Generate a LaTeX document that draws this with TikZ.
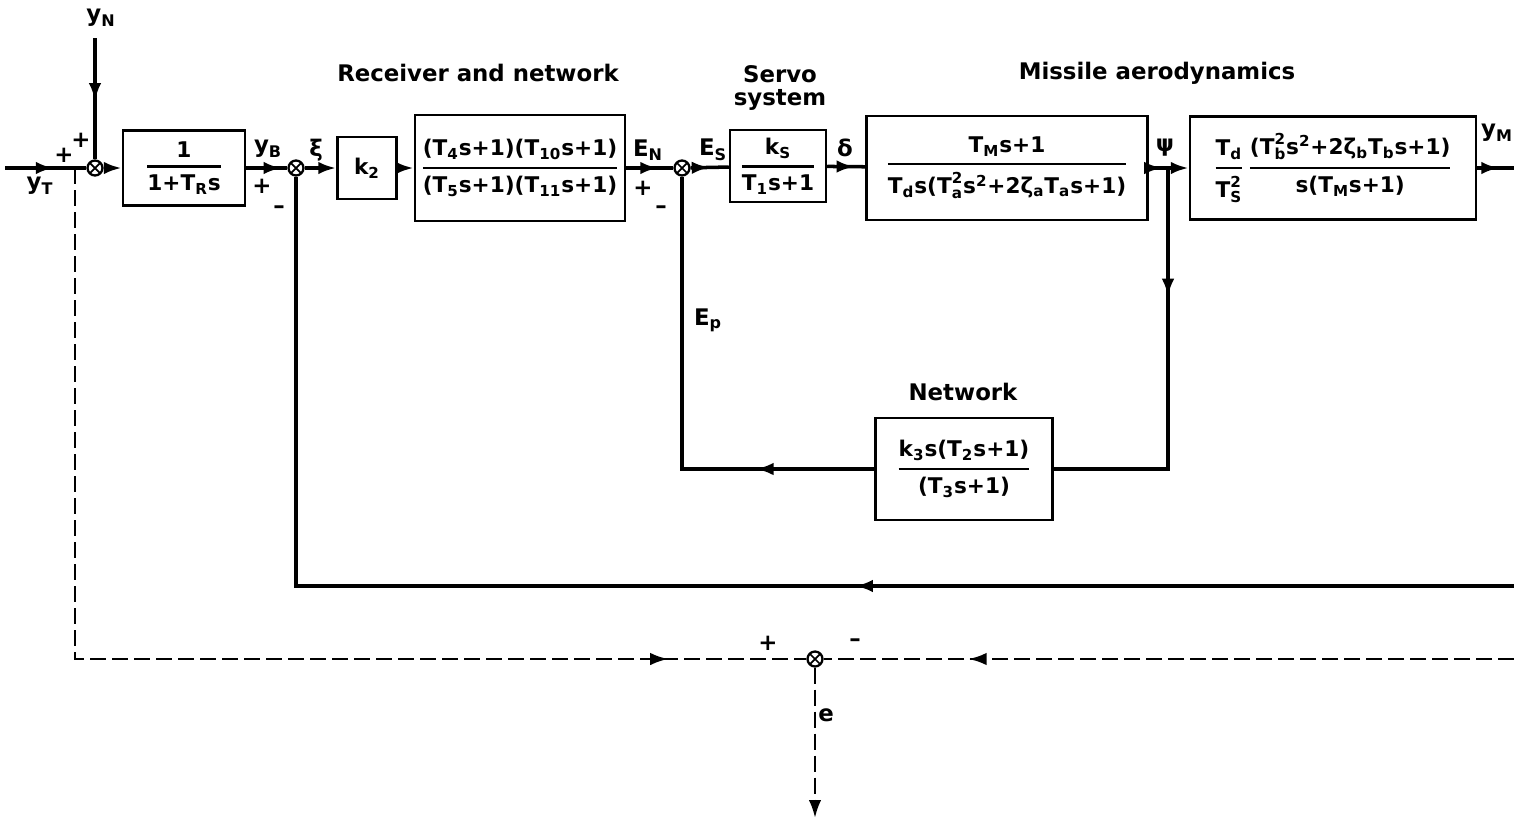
\documentclass[tikz,border=0pt]{standalone}
\usepackage{amsmath}
\usepackage{fontspec}
\setmainfont{DejaVu Sans}
\usepackage{tikz}
\usetikzlibrary{positioning,arrows.meta,decorations.markings}

\newcommand{\Tss}[2]{$\text{T}^{\text{#2}}_{\text{#1}}$}
\newcommand{\fr}[2]{$\genfrac{}{}{1.3pt}{0}{\text{#1}}{\text{#2}}$}

\begin{document}
\begin{tikzpicture}[
    x=0.2mm, y=-0.2mm,
    font=\fontsize{13}{15}\selectfont\bfseries,
    block/.style={draw, line width=1.4pt, align=center, inner sep=2pt, font=\fontsize{12.3}{14}\selectfont\bfseries},
    sumjn/.style={circle, draw, line width=1.3pt, minimum size=3mm, inner sep=0pt, fill=white,
        path picture={\draw[line width=1pt] (path picture bounding box.north west) -- (path picture bounding box.south east)
            (path picture bounding box.south west) -- (path picture bounding box.north east);}},
    sig/.style={line width=2pt},
    fbdash/.style={line width=1.5pt, dash pattern=on 3.2mm off 1.2mm},
    marrow/.style={postaction={decorate}, decoration={markings, mark=at position #1 with {\arrow{Latex[length=3.6mm,width=2.5mm]}}}},
    tip/.style={-{Latex[length=3.6mm,width=2.5mm]}},
    lbl/.style={inner sep=1pt}
]
\useasboundingbox (0,0) rectangle (1514,823);

\node[lbl] (ttlrec) at (478,73) {Receiver and network};
\node[lbl, align=center, font=\fontsize{13}{13}\selectfont\bfseries] (ttlservo) at (780,88) {Servo\\system};
\node[lbl] (ttlaero) at (1157,73) {Missile aerodynamics};
\node[lbl] (ttlnet) at (963,392) {Network};

\node[sumjn] (s1) at (95,168) {};
\node[block, minimum width=24.4mm, minimum height=15mm] (rtf) at (184,168) {\fr{1}{1+T\textsubscript{R}s}};
\node[sumjn] (s2) at (296,168) {};
\node[block, minimum width=11.8mm, minimum height=12.4mm] (k2) at (367,168) {k\textsubscript{2}};
\node[block, minimum width=42mm, minimum height=21.2mm] (rec) at (520,168) {\fr{(T\textsubscript{4}s+1)(T\textsubscript{10}s+1)}{(T\textsubscript{5}s+1)(T\textsubscript{11}s+1)}};
\node[sumjn] (s4) at (682,168) {};
\node[block, minimum width=19.2mm, minimum height=14.4mm] (servo) at (778,166) {\fr{k\textsubscript{S}}{T\textsubscript{1}s+1}};
\node[block, minimum width=56.2mm, minimum height=20.8mm] (aero) at (1007,168) {\fr{T\textsubscript{M}s+1}{T\textsubscript{d}s(\Tss{a}{2}s\textsuperscript{2}+2ζ\textsubscript{a}T\textsubscript{a}s+1)}};
\node[block, minimum width=57.2mm, minimum height=20.6mm] (kin) at (1333,168) {\fr{T\textsubscript{d}}{\Tss{S}{2}}\,\fr{(\Tss{b}{2}s\textsuperscript{2}+2ζ\textsubscript{b}T\textsubscript{b}s+1)}{s(T\textsubscript{M}s+1)}};
\node[block, minimum width=35.4mm, minimum height=20.4mm] (net) at (964,469) {\fr{k\textsubscript{3}s(T\textsubscript{2}s+1)}{(T\textsubscript{3}s+1)}};
\node[sumjn] (s3) at (815,659) {};

\coordinate (yT) at (5,168);
\coordinate (yN) at (95,38);
\coordinate (dL) at (75,168);
\coordinate (psi) at (1168,168);
\coordinate (yM) at (1514,168);
\coordinate (fbR) at (1514,586);
\coordinate (dR) at (1514,659);
\coordinate (eOut) at (815,818);

\draw[sig, marrow=0.6] (yT) -- (s1);
\draw[sig, marrow=0.52] (yN) -- (s1);
\draw[sig, tip] (s1) -- (rtf);
\draw[sig, marrow=0.86] (rtf) -- (s2);
\draw[sig, tip] (s2) -- (k2);
\draw[sig, tip] (k2) -- (rec);
\draw[sig, marrow=0.68] (rec) -- (s4);
\draw[sig, marrow=0.5] (s4) -- (servo);
\draw[sig, marrow=0.72] (servo) -- (aero);
\draw[sig, marrow=0.7] (aero) -- (psi);
\draw[sig, tip] (psi) -- (kin);
\draw[sig, marrow=0.6] (kin) -- (yM);
\draw[sig, marrow=0.31] (psi) |- (net);
\draw[sig, marrow=0.245] (net) -| (s4);
\draw[sig, marrow=0.405] (fbR) -| (s2);
\draw[fbdash, marrow=0.887] (dL) |- (s3);
\draw[fbdash, marrow=0.79] (dR) -- (s3);
\draw[fbdash, tip] (s3) -- (eOut);

\node[lbl] (lyT) at (40,186) {y\textsubscript{T}};
\node[lbl] (lpa) at (64,155) {+};
\node[lbl] (lpb) at (81,140) {+};
\node[lbl] (lyN) at (101,18) {y\textsubscript{N}};
\node[lbl] (lyB) at (268,149) {y\textsubscript{B}};
\node[lbl] (lpc) at (262,186) {+};
\node[lbl] (lmc) at (279,210) {–};
\node[lbl] (lxi) at (316,150) {ξ};
\node[lbl] (lEN) at (648,150) {E\textsubscript{N}};
\node[lbl] (lpd) at (643,188) {+};
\node[lbl] (lmd) at (661,210) {–};
\node[lbl] (lES) at (713,150) {E\textsubscript{S}};
\node[lbl] (ldelta) at (845,148) {δ};
\node[lbl] (lpsi) at (1165,148) {ψ};
\node[lbl] (lyM) at (1497,133) {y\textsubscript{M}};
\node[lbl] (lEp) at (708,320) {E\textsubscript{p}};
\node[lbl] (lpe) at (768,643) {+};
\node[lbl] (lme) at (855,643) {–};
\node[lbl] (le) at (826,715) {e};

\end{tikzpicture}
\end{document}
